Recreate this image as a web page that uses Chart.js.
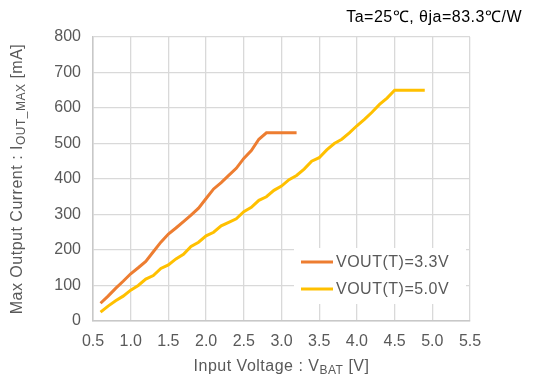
<!DOCTYPE html>
<html>
<head>
<meta charset="utf-8">
<script src="https://cdn.jsdelivr.net/npm/chart.js@4/dist/chart.umd.min.js"></script>
<style>
  html, body { margin: 0; padding: 0; background: #fff; }
  #wrap { width: 534px; height: 378px; position: relative; }
</style>
</head>
<body>
<div id="wrap"><canvas id="maxCurrentChart"></canvas></div>
<script>
// Input voltage (V) and max output current (mA) per output setting
const vbat33 = [0.6, 0.7, 0.8, 0.9, 1.0, 1.1, 1.2, 1.3, 1.4, 1.5, 1.6, 1.7, 1.8, 1.9,
                2.0, 2.1, 2.2, 2.3, 2.4, 2.5, 2.6, 2.7, 2.8, 2.9, 3.0, 3.1, 3.2];
const iout33 = [50, 70, 92, 112, 133, 150, 168, 195, 222, 245, 262, 280, 298, 318,
                345, 372, 390, 410, 430, 458, 480, 512, 530, 530, 530, 530, 530];

const vbat50 = [0.6, 0.7, 0.8, 0.9, 1.0, 1.1, 1.2, 1.3, 1.4, 1.5, 1.6, 1.7, 1.8, 1.9,
                2.0, 2.1, 2.2, 2.3, 2.4, 2.5, 2.6, 2.7, 2.8, 2.9, 3.0, 3.1, 3.2, 3.3,
                3.4, 3.5, 3.6, 3.7, 3.8, 3.9, 4.0, 4.1, 4.2, 4.3, 4.4, 4.5, 4.6, 4.7,
                4.8, 4.9];
const iout50 = [25, 42, 57, 70, 87, 100, 118, 128, 148, 158, 175, 188, 210, 222,
                240, 250, 268, 278, 288, 308, 320, 340, 350, 368, 380, 398, 410, 428,
                450, 460, 482, 500, 512, 530, 550, 568, 588, 610, 628, 650, 650, 650,
                650, 650];

const seriesLabels = ['VOUT(T)=3.3V', 'VOUT(T)=5.0V'];
const seriesColors = ['#ED7D31', '#FFC000'];
const conditionText = 'Ta=25\u2103, \u03B8ja=83.3\u2103/W';

const FONT = '"Liberation Sans", Arial, sans-serif';
const TEXT_COLOR = '#595959';

function toPoints(xs, ys) {
    return xs.map((x, i) => ({ x: x, y: ys[i] }));
}

// draws a run of normal / subscript pieces starting at (x, y), returns total width
function drawSubText(ctx, parts, x, y, measureOnly) {
    let cx = x;
    parts.forEach(p => {
        ctx.font = (p.sub ? '12px ' : '16px ') + FONT;
        if (!measureOnly) ctx.fillText(p.text, cx, y + (p.sub ? 4 : 0));
        cx += ctx.measureText(p.text).width;
    });
    return cx - x;
}

const annotations = {
    id: 'annotations',
    afterDraw(chart) {
        const ctx = chart.ctx;
        const area = chart.chartArea;
        ctx.save();
        ctx.letterSpacing = '0.5px';
        ctx.fillStyle = TEXT_COLOR;
        ctx.textBaseline = 'middle';
        ctx.textAlign = 'left';

        // x axis title
        const xParts = [{ text: 'Input Voltage : V' }, { text: 'BAT', sub: true }, { text: ' [V]' }];
        const xw = drawSubText(ctx, xParts, 0, 0, true);
        drawSubText(ctx, xParts, (area.left + area.right) / 2 - xw / 2, 367);

        // y axis title
        const yParts = [{ text: 'Max Output Current : I' }, { text: 'OUT_MAX', sub: true }, { text: ' [mA]' }];
        const yw = drawSubText(ctx, yParts, 0, 0, true);
        ctx.translate(18, (area.top + area.bottom) / 2);
        ctx.rotate(-Math.PI / 2);
        drawSubText(ctx, yParts, -yw / 2, 0);
        ctx.restore();

        // condition note, top right
        ctx.save();
        ctx.letterSpacing = '0.5px';
        ctx.font = '16px ' + FONT;
        ctx.fillStyle = '#000';
        ctx.textAlign = 'right';
        ctx.textBaseline = 'middle';
        ctx.fillText(conditionText, 522, 18);
        ctx.restore();

        // legend box inside the plot
        ctx.save();
        ctx.fillStyle = '#fff';
        ctx.fillRect(294, 248, 172, 56);
        ctx.letterSpacing = '0.5px';
        ctx.font = '16px ' + FONT;
        ctx.textBaseline = 'middle';
        ctx.textAlign = 'left';
        chart.data.datasets.forEach((ds, i) => {
            const y = 262 + i * 27;
            ctx.strokeStyle = ds.borderColor;
            ctx.lineWidth = 3;
            ctx.beginPath();
            ctx.moveTo(301, y);
            ctx.lineTo(333, y);
            ctx.stroke();
            ctx.fillStyle = TEXT_COLOR;
            ctx.fillText(ds.label, 336, y + 1);
        });
        ctx.restore();
    }
};

new Chart(document.getElementById('maxCurrentChart'), {
    type: 'line',
    data: {
        datasets: [
            {
                label: seriesLabels[0],
                data: toPoints(vbat33, iout33),
                borderColor: seriesColors[0],
                borderWidth: 3,
                pointRadius: 0,
                tension: 0
            },
            {
                label: seriesLabels[1],
                data: toPoints(vbat50, iout50),
                borderColor: seriesColors[1],
                borderWidth: 3,
                pointRadius: 0,
                tension: 0
            }
        ]
    },
    options: {
        responsive: true,
        maintainAspectRatio: false,
        animation: false,
        events: [],
        layout: { padding: { top: 37, right: 64, left: 0, bottom: 0 } },
        plugins: {
            legend: { display: false },
            tooltip: { enabled: false }
        },
        scales: {
            x: {
                type: 'linear',
                min: 0.5,
                max: 5.5,
                ticks: {
                    stepSize: 0.5,
                    color: TEXT_COLOR,
                    font: { family: FONT, size: 16 },
                    padding: 11,
                    callback: v => v.toFixed(1)
                },
                grid: { color: '#d9d9d9', lineWidth: 1.3, drawTicks: false },
                border: { color: '#c8c8c8', width: 1.5 },
                afterFit(scale) { scale.height = 57; }
            },
            y: {
                min: 0,
                max: 800,
                ticks: {
                    stepSize: 100,
                    color: TEXT_COLOR,
                    font: { family: FONT, size: 16 },
                    padding: 12
                },
                grid: { color: '#d9d9d9', lineWidth: 1.3, drawTicks: false },
                border: { color: '#c8c8c8', width: 1.5 },
                afterFit(scale) { scale.width = 93; }
            }
        }
    },
    plugins: [annotations]
});
</script>
</body>
</html>
